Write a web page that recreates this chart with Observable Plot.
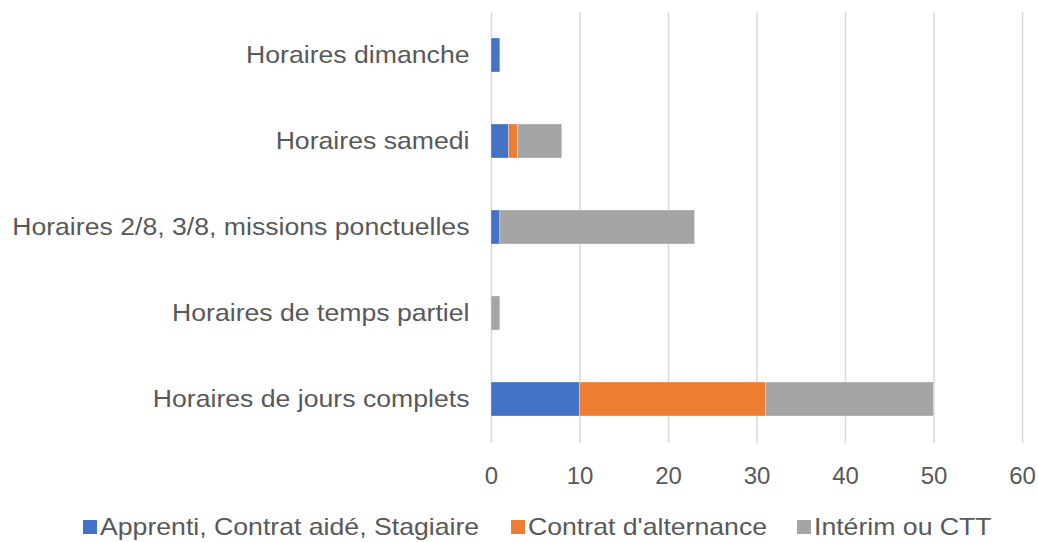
<!DOCTYPE html>
<html>
<head>
<meta charset="utf-8">
<script src="https://cdn.jsdelivr.net/npm/d3@7"></script>
<script src="https://cdn.jsdelivr.net/npm/@observablehq/plot@0.6"></script>
<style>
  body { margin: 0; background: #fff; font-family: "Liberation Sans", Arial, sans-serif; }
  #chart { width: 1038px; }
  #legend { position: relative; height: 42px; color: #595959; font-size: 24px; }
  .item { position: absolute; top: 13px; display: flex; align-items: center; white-space: nowrap; }
  .sw { width: 14px; height: 14px; margin-right: 3px; flex: none; }
  .lbl { display: inline-block; transform-origin: left center; transform: scaleX(1.11); }
</style>
</head>
<body>
<div id="chart"></div>
<div id="legend"></div>
<script>
const categories = [
  "Horaires dimanche",
  "Horaires samedi",
  "Horaires 2/8, 3/8, missions ponctuelles",
  "Horaires de temps partiel",
  "Horaires de jours complets"
];
const seriesNames = ["Apprenti, Contrat aidé, Stagiaire", "Contrat d'alternance", "Intérim ou CTT"];
const seriesColors = ["#4472C4", "#ED7D31", "#A5A5A5"];
const apprenti = [1, 2, 1, 0, 10];
const alternance = [0, 1, 0, 0, 21];
const interim = [0, 5, 22, 1, 19];
const xTicks = [0, 10, 20, 30, 40, 50, 60];

const seriesValues = [apprenti, alternance, interim];
const data = [];
seriesNames.forEach((s, si) => {
  categories.forEach((c, ci) => {
    data.push({category: c, series: s, value: seriesValues[si][ci]});
  });
});

const chart = Plot.plot({
  width: 1038,
  height: 500,
  marginLeft: 491,
  marginRight: 16,
  marginTop: 12,
  marginBottom: 57,
  style: {fontFamily: "'Liberation Sans', Arial, sans-serif", fontSize: "24px", color: "#595959", background: "#fff"},
  x: {domain: [0, 60], ticks: xTicks, tickSize: 0, tickPadding: 23, label: null},
  y: {domain: categories, paddingInner: 0.6, paddingOuter: 0.3, tickSize: 0, tickPadding: 22, label: null},
  color: {domain: seriesNames, range: seriesColors},
  marks: [
    Plot.gridX(xTicks, {stroke: "#d9d9d9", strokeOpacity: 1, strokeWidth: 1.5}),
    Plot.barX(data, Plot.stackX({y: "category", x: "value", fill: "series", order: null, stroke: "#ffffff", strokeWidth: 0.6, strokeOpacity: 0.5})),
    Plot.axisX({ticks: xTicks, tickSize: 0, tickPadding: 23, fontSize: 24}),
    Plot.axisY({tickSize: 0, tickPadding: 22, fontSize: 24})
  ]
});
document.getElementById("chart").appendChild(chart);

// Slight horizontal stretch of category labels, anchored at their right end
chart.querySelectorAll('g[aria-label="y-axis tick label"] text').forEach(t => {
  const b = t.getBBox();
  const r = b.x + b.width;
  const prev = t.getAttribute("transform") || "";
  t.setAttribute("transform", `${prev} translate(${r},0) scale(1.11,1) translate(${-r},0)`);
});

const legend = document.getElementById("legend");
const starts = [83, 511, 797];
seriesNames.forEach((s, i) => {
  const it = document.createElement("div");
  it.className = "item";
  it.style.left = starts[i] + "px";
  const sw = document.createElement("span");
  sw.className = "sw";
  sw.style.background = seriesColors[i];
  const lb = document.createElement("span");
  lb.className = "lbl";
  lb.textContent = s;
  it.appendChild(sw);
  it.appendChild(lb);
  legend.appendChild(it);
});
</script>
</body>
</html>
